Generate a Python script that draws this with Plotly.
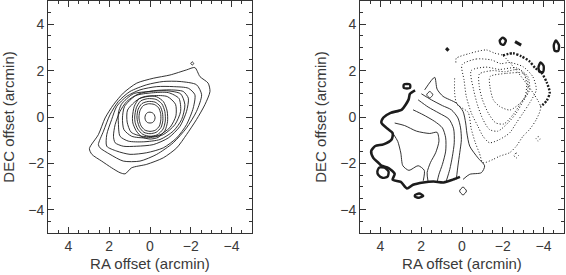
import plotly.graph_objects as go

# ---------------- data: contour paths (RA offset, DEC offset) in arcmin ----------------
# Left panel: integrated intensity contours
left_c1 = [(-2.20, 2.13), (-2.45, 1.74), (-2.85, 1.46), (-2.94, 1.10), (-2.69, 0.53), (-2.28, -0.11),
           (-1.79, -0.76), (-1.31, -1.33), (-0.65, -1.76), (0.16, -2.04), (0.90, -2.19), (1.22, -2.45),
           (1.47, -2.40), (1.88, -2.19), (2.37, -1.90), (2.85, -1.61), (2.97, -1.36), (2.53, -0.76),
           (2.20, -0.04), (1.79, 0.53), (1.31, 1.03), (0.65, 1.46), (-0.16, 1.67), (-0.98, 1.81),
           (-1.79, 2.03)]
left_c2 = [(2.45, -1.33), (1.96, -1.61), (1.31, -1.90), (0.49, -1.90), (-0.33, -1.61), (-1.14, -1.11),
           (-1.79, -0.47), (-2.28, 0.24), (-2.53, 0.96), (-2.28, 1.39), (-1.47, 1.53), (-0.65, 1.53),
           (0.16, 1.39), (0.98, 1.10), (1.55, 0.67), (1.96, 0.10), (2.28, -0.61), (2.53, -1.19)]
left_c3 = [(2.12, -1.26), (1.63, -1.47), (0.98, -1.61), (0.16, -1.54), (-0.65, -1.33), (-1.31, -0.90),
           (-1.79, -0.33), (-2.12, 0.39), (-2.20, 0.96), (-1.88, 1.24), (-1.14, 1.31), (-0.33, 1.31),
           (0.49, 1.17), (1.14, 0.89), (1.63, 0.46), (1.88, -0.11), (2.12, -0.76)]
left_c4 = [(1.79, -0.83), (1.71, -1.11), (1.31, -1.26), (0.65, -1.26), (-0.16, -1.19), (-0.90, -0.90),
           (-1.47, -0.40), (-1.79, 0.24), (-1.88, 0.81), (-1.63, 1.10), (-0.98, 1.17), (-0.16, 1.13),
           (0.57, 0.99), (1.14, 0.67), (1.47, 0.24), (1.71, -0.33)]
left_c5 = [(1.40, 0.55), (0.82, 1.00), (0.00, 1.10), (-0.82, 1.13), (-1.50, 1.00), (-1.71, 0.53),
           (-1.55, -0.11), (-1.14, -0.61), (-0.49, -0.97), (0.33, -1.07), (1.06, -1.04), (1.47, -0.83),
           (1.55, -0.26), (1.55, 0.17)]
left_c6 = [(1.25, 0.45), (0.70, 0.92), (-0.08, 1.04), (-0.90, 1.05), (-1.42, 0.80), (-1.50, 0.24),
           (-1.22, -0.33), (-0.65, -0.76), (0.16, -0.90), (0.90, -0.83), (1.28, -0.54), (1.35, -0.04)]
left_c7 = [(1.10, 0.30), (0.55, 0.78), (-0.16, 0.92), (-0.85, 0.88), (-1.25, 0.55), (-1.27, 0.05),
           (-0.98, -0.45), (-0.41, -0.80), (0.33, -0.84), (0.92, -0.66), (1.12, -0.22)]
left_r1 = [(0.86, 0.00), (0.77, 0.46), (0.53, 0.79), (0.13, 0.90), (-0.33, 0.87), (-0.66, 0.66),
           (-0.84, 0.26), (-0.86, -0.20), (-0.73, -0.59), (-0.40, -0.88), (0.00, -0.95), (0.40, -0.86),
           (0.68, -0.59), (0.84, -0.26)]
left_r2 = [(0.75, 0.00), (0.67, 0.40), (0.46, 0.69), (0.11, 0.79), (-0.29, 0.76), (-0.58, 0.57),
           (-0.73, 0.23), (-0.75, -0.17), (-0.64, -0.52), (-0.35, -0.77), (0.00, -0.83), (0.35, -0.75),
           (0.60, -0.52), (0.73, -0.23)]
left_r3 = [(0.64, 0.00), (0.58, 0.34), (0.39, 0.58), (0.09, 0.67), (-0.25, 0.64), (-0.49, 0.47),
           (-0.61, 0.19), (-0.63, -0.15), (-0.54, -0.45), (-0.30, -0.66), (0.00, -0.72), (0.30, -0.66),
           (0.51, -0.45), (0.61, -0.20)]
left_r4 = [(0.54, 0.00), (0.49, 0.28), (0.33, 0.49), (0.07, 0.57), (-0.21, 0.54), (-0.42, 0.40),
           (-0.52, 0.16), (-0.53, -0.12), (-0.46, -0.39), (-0.26, -0.57), (0.00, -0.62), (0.26, -0.56),
           (0.44, -0.38), (0.52, -0.16)]
left_core = [(0.25, -0.03), (0.21, 0.11), (0.12, 0.19), (0.00, 0.21), (-0.12, 0.18), (-0.21, 0.10),
             (-0.25, -0.03), (-0.21, -0.16), (-0.12, -0.24), (0.00, -0.26), (0.12, -0.24), (0.21, -0.16)]
left_blob = [(-2.00, 2.30), (-2.07, 2.38), (-2.14, 2.31), (-2.08, 2.24)]

# Right panel: velocity field; solid = positive, dotted = negative, thick = outer edge
right_edge = [(2.30, 1.15), (2.55, 1.00), (2.62, 0.75), (2.95, 0.32), (3.50, 0.18), (3.85, -0.02),
              (3.95, -0.25), (3.70, -0.47), (3.40, -0.70), (3.45, -0.97), (3.85, -1.18), (4.25, -1.25),
              (4.45, -1.47), (4.35, -1.76), (4.10, -1.97), (3.95, -2.10), (3.60, -2.20), (3.30, -2.45),
              (3.40, -2.70), (3.00, -2.80), (2.70, -3.08), (2.40, -2.92), (1.90, -2.82), (1.40, -2.78),
              (0.90, -2.82), (0.45, -2.70), (0.10, -2.58)]
right_edge_nw = [(-2.00, 2.65), (-2.50, 2.75), (-2.90, 2.62), (-3.31, 2.40), (-3.60, 2.10), (-3.90, 1.90),
                 (-4.15, 1.50), (-4.30, 1.05), (-4.15, 0.70), (-3.85, 0.45)]
right_islands = [
    [(4.15, -2.35), (4.05, -2.18), (3.80, -2.18), (3.60, -2.35), (3.65, -2.57), (3.90, -2.62), (4.10, -2.50)],
    [(2.30, -3.36), (2.10, -3.30), (1.90, -3.40), (2.10, -3.48), (2.30, -3.44)],
    [(2.85, 1.40), (2.55, 1.40), (2.55, 1.25), (2.85, 1.25)],
    [(-1.85, 3.30), (-2.00, 3.42), (-2.15, 3.30), (-2.05, 3.12), (-1.90, 3.15)],
    [(-4.50, 3.10), (-4.60, 3.30), (-4.75, 3.10), (-4.72, 2.85), (-4.55, 2.85)],
    [(-3.75, 2.15), (-3.85, 2.35), (-4.00, 2.20), (-3.98, 1.95), (-3.80, 1.95)],
]
right_specks = [[(0.78, 2.97), (0.66, 2.86)], [(-2.60, 3.25), (-2.90, 3.10)]]
right_pos1 = [(1.83, 1.17), (1.34, 1.71), (1.22, 1.20), (0.93, 0.89), (0.28, 0.60), (-0.05, 0.24),
              (-0.18, -0.26), (-0.24, -0.69), (-0.38, -1.26), (-0.78, -1.76), (-1.11, -2.11),
              (-0.95, -2.40), (-0.38, -2.47), (-0.05, -2.69)]
right_pos2 = [(1.99, 1.00), (1.50, 0.74), (0.96, 0.49), (0.52, 0.31), (0.20, -0.04), (0.07, -0.47),
              (0.03, -0.97), (0.11, -1.54), (0.20, -2.11), (0.28, -2.69)]
right_pos3 = [(2.15, 0.74), (1.66, 0.43), (1.13, 0.17), (0.64, -0.09), (0.41, -0.51), (0.38, -1.11),
              (0.47, -1.69), (0.60, -2.26), (0.77, -2.76)]
right_pos4 = [(2.40, 0.31), (1.91, 0.10), (1.34, -0.19), (0.96, -0.47), (0.80, -0.90), (0.80, -1.47),
              (0.96, -2.04), (1.13, -2.47), (1.22, -2.80)]
right_pos5 = [(3.30, -0.26), (2.81, -0.37), (2.23, -0.61), (1.58, -0.71), (1.22, -0.66), (1.13, -1.04),
              (1.29, -1.54), (1.55, -1.97), (1.71, -2.40), (1.66, -2.80)]
right_pos6 = [(3.35, -0.75), (3.15, -1.05), (3.00, -1.55), (2.90, -2.10), (2.60, -2.30), (2.15, -2.10),
              (1.85, -2.30), (1.90, -2.75)]
right_rings = [
    [(1.73, 0.96), (1.58, 1.10), (1.43, 0.96), (1.58, 0.82)],
    [(0.12, -3.19), (-0.05, -3.02), (-0.22, -3.19), (-0.05, -3.36)],
]
right_neg1 = [(0.30, 2.35), (0.28, 2.53), (-0.38, 2.74), (-1.19, 2.89), (-1.60, 2.75), (-2.00, 2.65),
              (-3.85, 0.45), (-3.64, -0.11), (-3.31, -0.54), (-2.99, -0.83), (-2.66, -1.26),
              (-2.33, -1.54), (-1.84, -1.69), (-1.52, -1.83), (-1.03, -1.97), (-0.85, -1.55),
              (-0.65, -1.10), (-0.45, -0.50), (-0.30, 0.20), (0.25, 0.55), (0.36, 1.03), (0.36, 1.74)]
right_neg2 = [(0.00, 2.25), (-0.70, 2.50), (-1.44, 2.46), (-1.90, 2.30), (-2.33, 2.35), (-2.99, 2.17),
              (-3.47, 1.74), (-3.64, 1.17), (-3.31, 0.60), (-2.99, 0.17), (-2.66, -0.26), (-2.33, -0.69),
              (-1.84, -0.97), (-1.35, -1.11), (-1.03, -0.83), (-0.78, -0.40), (-0.46, 0.17),
              (-0.21, 0.89), (-0.10, 1.60)]
right_neg3 = [(-0.45, 2.00), (-1.19, 2.15), (-1.84, 2.05), (-2.66, 2.12), (-3.23, 1.74), (-3.31, 1.17),
              (-2.99, 0.67), (-2.66, 0.17), (-2.25, -0.26), (-1.76, -0.61), (-1.35, -0.54),
              (-1.03, -0.11), (-0.78, 0.46), (-0.57, 1.17)]
right_neg4 = [(-0.85, 1.85), (-1.50, 2.00), (-2.10, 1.95), (-2.80, 2.05), (-3.20, 1.65), (-3.20, 1.05),
              (-2.85, 0.55), (-2.50, 0.10), (-2.05, -0.30), (-1.65, -0.25), (-1.30, 0.15), (-1.00, 0.75),
              (-0.85, 1.30)]
right_neg5 = [(-1.37, 1.74), (-2.19, 1.88), (-3.00, 1.88), (-3.17, 1.45), (-3.09, 0.88), (-2.84, 0.59),
              (-2.35, 0.30), (-1.86, 0.45), (-1.54, 0.73), (-1.37, 1.31)]
right_neg_rings = [
    [(-2.55, -1.66), (-2.66, -1.55), (-2.77, -1.66), (-2.66, -1.77)],
    [(-3.63, -0.94), (-3.73, -0.84), (-3.83, -0.94), (-3.73, -1.04)],
]

# ---------------- figure ----------------
INK = "#1c1c1c"
DOT = "1px,2px"
fig = go.Figure()


def add(pts, panel, width=1.0, dash="solid", closed=True, smooth=0.7):
    xs = [p[0] for p in pts]
    ys = [p[1] for p in pts]
    if closed:
        xs.append(xs[0])
        ys.append(ys[0])
    fig.add_trace(go.Scatter(
        x=xs, y=ys, mode="lines",
        line=dict(color=INK, width=width, dash=dash, shape="spline", smoothing=smooth),
        xaxis="x" if panel == 1 else "x2", yaxis="y" if panel == 1 else "y2",
        hoverinfo="skip", showlegend=False))


for c in [left_c1, left_c2, left_c3, left_c4, left_c5, left_c6, left_c7,
          left_r1, left_r2, left_r3, left_r4, left_core, left_blob]:
    add(c, 1, 0.9)

add(right_edge, 2, 2.6, closed=False)
add(right_edge_nw, 2, 2.4, dash="2px,1.5px", closed=False)
for c in right_islands:
    add(c, 2, 2.4)
for c in right_specks:
    add(c, 2, 3.0, closed=False)
for c in [right_pos1, right_pos2, right_pos3, right_pos4, right_pos5, right_pos6]:
    add(c, 2, 0.9, closed=False)
for c in right_rings:
    add(c, 2, 0.9)
add(right_neg1, 2, 1.0, dash=DOT, closed=False)
for c in [right_neg2, right_neg3, right_neg4, right_neg5]:
    add(c, 2, 1.0, dash=DOT)
for c in right_neg_rings:
    add(c, 2, 1.0, dash=DOT)

FONT = "Liberation Sans, Arial, sans-serif"
TXT = "#3a3a3a"


def axis(rng, title, domain, anchor, standoff):
    return dict(
        range=rng, domain=domain, anchor=anchor, tick0=0, dtick=2, automargin=False,
        ticks="inside", ticklen=6, tickwidth=1, tickcolor="#333",
        minor=dict(dtick=0.5, ticks="inside", ticklen=3, tickwidth=1, tickcolor="#333"),
        showline=True, linecolor="#333", linewidth=1, mirror="allticks",
        showgrid=False, zeroline=False,
        tickfont=dict(family=FONT, size=14, color=TXT),
        title=dict(text=title, font=dict(family=FONT, size=15, color=TXT), standoff=standoff),
    )


ydom = [42 / 275, 274 / 275]
fig.update_layout(
    width=566, height=275,
    margin=dict(l=0, r=0, t=0, b=0),
    paper_bgcolor="white", plot_bgcolor="white",
    hovermode=False, dragmode=False,
    xaxis=axis([5, -5], "RA offset (arcmin)", [48 / 566, 252 / 566], "y", 5),
    yaxis=axis([-5, 5], "DEC offset (arcmin)", ydom, "x", 9),
    xaxis2=axis([5, -5], "RA offset (arcmin)", [360 / 566, 564 / 566], "y2", 5),
    yaxis2=axis([-5, 5], "DEC offset (arcmin)", ydom, "x2", 9),
)

fig.write_html("out.html",
               config={"displayModeBar": False, "staticPlot": True},
               post_script="document.body.style.margin='0';document.body.style.padding='0';"
                           "document.body.style.overflow='hidden';")
